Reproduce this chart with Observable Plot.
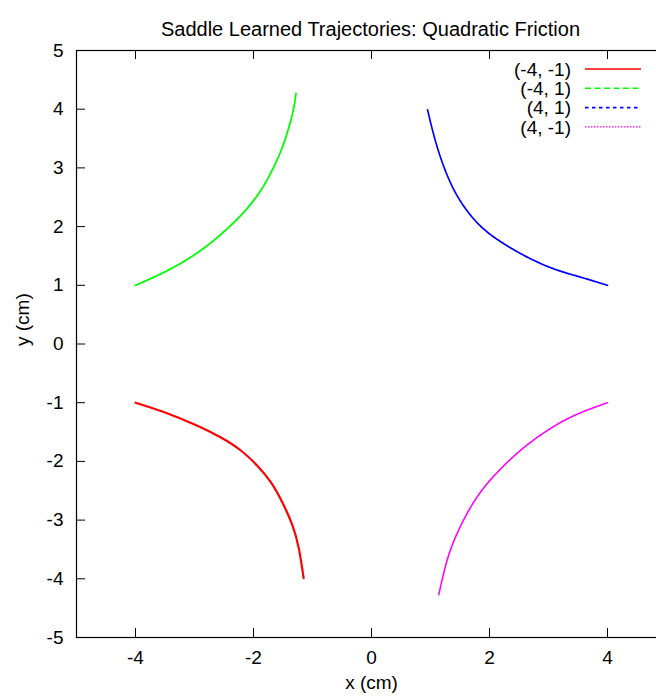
<!DOCTYPE html>
<html>
<head>
<meta charset="utf-8">
<script src="https://cdn.jsdelivr.net/npm/d3@7"></script>
<script src="https://cdn.jsdelivr.net/npm/@observablehq/plot@0.6"></script>
<style>
  html, body { margin: 0; padding: 0; background: #fff; }
  #chart { position: relative; width: 656px; height: 696px; overflow: hidden; }
</style>
</head>
<body>
<div id="chart"></div>
<script>
// ---- texts ----
const title = "Saddle Learned Trajectories: Quadratic Friction";
const xLabel = "x (cm)";
const yLabel = "y (cm)";
const xTicks = [-4, -2, 0, 2, 4];
const yTicks = [-5, -4, -3, -2, -1, 0, 1, 2, 3, 4, 5];

// ---- series ----
const seriesNames = ["(-4, -1)", "(-4, 1)", "(4, 1)", "(4, -1)"];
const seriesColors = ["#ff0000", "#00ff00", "#0000ff", "#ff00ff"];

const redX = [-4.00, -3.52, -2.96, -2.56, -2.22, -1.94, -1.71, -1.51, -1.34, -1.23, -1.15];
const redY = [-1.00, -1.16, -1.39, -1.59, -1.81, -2.07, -2.35, -2.70, -3.09, -3.49, -3.99];

const greenX = [-4.00, -3.46, -2.90, -2.45, -2.16, -1.88, -1.66, -1.49, -1.34, -1.28];
const greenY = [1.00, 1.25, 1.59, 1.96, 2.25, 2.61, 3.01, 3.41, 3.92, 4.27];

const blueX = [4.00, 3.54, 3.09, 2.64, 2.24, 1.90, 1.62, 1.40, 1.23, 1.08, 0.95];
const blueY = [1.00, 1.14, 1.28, 1.48, 1.71, 1.96, 2.27, 2.62, 3.01, 3.47, 3.99];

const magX = [4.00, 3.37, 2.81, 2.36, 1.96, 1.68, 1.45, 1.28, 1.14];
const magY = [-1.00, -1.25, -1.59, -1.96, -2.38, -2.78, -3.23, -3.69, -4.27];

const toRows = (xs, ys) => xs.map((x, i) => ({x, y: ys[i]}));
const series = [
  toRows(redX, redY),
  toRows(greenX, greenY),
  toRows(blueX, blueY),
  toRows(magX, magY)
];

// styles (curve, legend sample)
const curveWidth = [2.2, 1.8, 1.7, 1.6];
const curveDash = [null, "4,0.6", "1.8,0.7", "1.6,0.8"];
const legendWidth = [1.6, 1.4, 1.6, 1.2];
const legendDash = [null, "6,3.5", "3.5,3.5", "1.5,1.5"];

const FONT = "'Liberation Sans', Arial, Helvetica, sans-serif";
const fmt = d => String(d);

const plot = Plot.plot({
  width: 656,
  height: 696,
  marginLeft: 76,
  marginRight: -10,
  marginTop: 50,
  marginBottom: 59,
  x: {domain: [-5, 5]},
  y: {domain: [-5, 5]},
  style: {fontFamily: FONT, fontSize: "19px", color: "#000", background: "#fff"},
  marks: [
    ...series.map((data, i) => Plot.line(data, {
      x: "x", y: "y",
      stroke: seriesColors[i],
      strokeWidth: curveWidth[i],
      strokeDasharray: curveDash[i],
      curve: "natural"
    })),
    Plot.frame({stroke: "#000", strokeWidth: 1.2}),
    Plot.tickX(xTicks, {x: d => d, insetTop: 578, stroke: "#000", strokeWidth: 1}),
    Plot.tickX(xTicks, {x: d => d, insetBottom: 578, stroke: "#000", strokeWidth: 1}),
    Plot.tickY(yTicks, {y: d => d, insetRight: 581, stroke: "#000", strokeWidth: 1}),
    Plot.tickY(yTicks, {y: d => d, insetLeft: 581, stroke: "#000", strokeWidth: 1}),
    Plot.axisX({ticks: xTicks, tickSize: 0, tickPadding: 13, tickFormat: fmt, label: null, fontSize: 19}),
    Plot.axisY({ticks: yTicks, tickSize: 0, tickPadding: 13, tickFormat: fmt, label: null, fontSize: 19}),
    Plot.text([title], {frameAnchor: "top", dy: -29, dx: -1, fontSize: 20, text: d => d}),
    Plot.text([xLabel], {frameAnchor: "bottom", dy: 51, fontSize: 19, text: d => d}),
    Plot.text([yLabel], {frameAnchor: "left", dx: -54, dy: 2, rotate: -90, fontSize: 19, text: d => d})
  ]
});

// legend inside plot, top-right
const svgSel = d3.select(plot);
const xr = plot.scale("x").range;
const yr = plot.scale("y").range;
const frameRight = Math.max(...xr);
const frameTop = Math.min(...yr);
const lg = svgSel.append("g").attr("font-family", FONT).attr("font-size", 19).attr("fill", "#000");
seriesNames.forEach((name, i) => {
  const cy = frameTop + 19 + i * 19.3;
  lg.append("text")
    .attr("x", frameRight - 95).attr("y", cy).attr("dy", "0.35em")
    .attr("text-anchor", "end").text(name);
  lg.append("line")
    .attr("x1", frameRight - 81).attr("x2", frameRight - 25)
    .attr("y1", cy).attr("y2", cy)
    .attr("stroke", seriesColors[i])
    .attr("stroke-width", legendWidth[i])
    .attr("stroke-dasharray", legendDash[i]);
});

document.getElementById("chart").appendChild(plot);
</script>
</body>
</html>
